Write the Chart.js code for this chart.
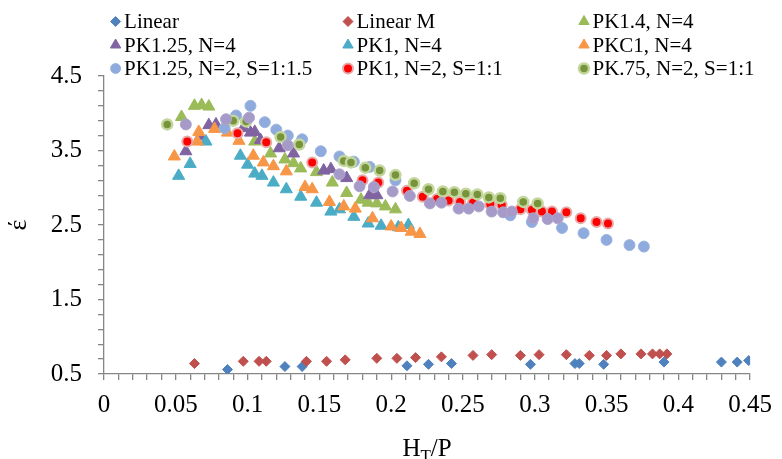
<!DOCTYPE html>
<html>
<head>
<meta charset="utf-8">
<script src="https://cdn.jsdelivr.net/npm/chart.js@4.4.1/dist/chart.umd.min.js"></script>
<style>
  html, body { margin: 0; padding: 0; background: #fff; }
  .chart__box { width: 782px; height: 459px; position: relative; }
</style>
</head>
<body>
<div class="chart__box"><canvas id="epsChart"></canvas></div>
<script>
"use strict";

// [HT/P, eps'] pairs per series
const linearPts = [
  [0.086, 0.56], [0.126, 0.6], [0.138, 0.6], [0.211, 0.61], [0.226, 0.63],
  [0.242, 0.64], [0.297, 0.63], [0.328, 0.64], [0.331, 0.64], [0.348, 0.63],
  [0.39, 0.66], [0.43, 0.66], [0.441, 0.66], [0.449, 0.68],
];
const linearMPts = [
  [0.063, 0.64], [0.097, 0.67], [0.108, 0.67], [0.113, 0.67], [0.141, 0.67],
  [0.155, 0.67], [0.168, 0.69], [0.19, 0.71], [0.204, 0.71], [0.217, 0.72],
  [0.235, 0.73], [0.257, 0.75], [0.27, 0.76], [0.29, 0.75], [0.303, 0.76],
  [0.322, 0.76], [0.338, 0.75], [0.35, 0.75], [0.36, 0.77], [0.374, 0.77],
  [0.382, 0.77], [0.387, 0.77], [0.392, 0.77],
];
const pk14Pts = [
  [0.054, 3.95], [0.063, 4.1], [0.068, 4.11], [0.073, 4.09], [0.105, 3.62],
  [0.116, 3.46], [0.126, 3.38], [0.132, 3.33], [0.137, 3.26], [0.148, 3.21],
  [0.159, 3.07], [0.169, 2.93], [0.179, 2.84], [0.184, 2.8], [0.19, 2.79],
  [0.196, 2.75], [0.203, 2.71],
];
const pk125Pts = [
  [0.057, 3.49], [0.067, 3.69], [0.073, 3.84], [0.078, 3.85], [0.097, 3.8],
  [0.102, 3.74], [0.105, 3.75], [0.109, 3.64], [0.122, 3.53], [0.132, 3.46],
  [0.153, 3.23], [0.158, 3.25], [0.169, 3.13], [0.185, 2.9], [0.19, 2.9],
];
const pk1Pts = [
  [0.052, 3.16], [0.06, 3.32], [0.071, 3.62], [0.095, 3.43], [0.1, 3.31],
  [0.105, 3.19], [0.11, 3.16], [0.118, 3.07], [0.127, 2.98], [0.137, 2.88],
  [0.148, 2.8], [0.158, 2.68], [0.164, 2.71], [0.174, 2.61], [0.184, 2.52],
  [0.193, 2.49], [0.205, 2.47], [0.212, 2.5],
];
const pkc1Pts = [
  [0.049, 3.42], [0.065, 3.62], [0.066, 3.75], [0.077, 3.79], [0.086, 3.74],
  [0.094, 3.63], [0.104, 3.43], [0.111, 3.34], [0.118, 3.29], [0.127, 3.22],
  [0.14, 3.01], [0.145, 2.98], [0.157, 2.81], [0.167, 2.75], [0.175, 2.72],
  [0.187, 2.59], [0.2, 2.48], [0.207, 2.46], [0.214, 2.41], [0.22, 2.38],
];
const pk125n2Pts = [
  [0.084, 3.8], [0.092, 3.97], [0.102, 4.1], [0.112, 3.88], [0.12, 3.78],
  [0.128, 3.7], [0.138, 3.65], [0.151, 3.49], [0.164, 3.42], [0.174, 3.35],
  [0.185, 3.28], [0.203, 3.1], [0.283, 2.63], [0.298, 2.54], [0.319, 2.46],
  [0.334, 2.39], [0.35, 2.3], [0.366, 2.23], [0.376, 2.21],
];
const pk1n2Pts = [
  [0.058, 3.62], [0.093, 3.73], [0.113, 3.61], [0.145, 3.34], [0.18, 3.1],
  [0.191, 3.07], [0.211, 2.96], [0.222, 2.88], [0.232, 2.85], [0.24, 2.83],
  [0.248, 2.81], [0.257, 2.8], [0.269, 2.78], [0.277, 2.77], [0.29, 2.71],
  [0.298, 2.7], [0.305, 2.68], [0.312, 2.68], [0.322, 2.67], [0.332, 2.59],
  [0.343, 2.54], [0.351, 2.52],
];
const pk075Pts = [
  [0.044, 3.85], [0.09, 3.9], [0.099, 3.89], [0.123, 3.68], [0.136, 3.58],
  [0.167, 3.36], [0.172, 3.34], [0.182, 3.27], [0.192, 3.23], [0.203, 3.17],
  [0.216, 3.06], [0.226, 2.98], [0.236, 2.95], [0.244, 2.94], [0.252, 2.92],
  [0.26, 2.91], [0.268, 2.87], [0.276, 2.86], [0.292, 2.81], [0.302, 2.79],
];
// extra run, no legend entry
const extraPts = [
  [0.057, 3.85], [0.085, 3.92], [0.101, 3.94], [0.128, 3.57], [0.164, 3.18],
  [0.178, 3.02], [0.188, 3.01], [0.201, 2.95], [0.213, 2.89], [0.227, 2.79],
  [0.235, 2.8], [0.247, 2.72], [0.254, 2.72], [0.261, 2.75], [0.27, 2.68],
  [0.278, 2.67], [0.284, 2.68], [0.299, 2.59], [0.309, 2.58], [0.316, 2.59],
];

const xTicks = [0, 0.05, 0.1, 0.15, 0.2, 0.25, 0.3, 0.35, 0.4, 0.45];
const yTicks = [0.5, 1.5, 2.5, 3.5, 4.5];

const FONT = "'Liberation Serif', 'Times New Roman', serif";
const AXIS_GREY = "#868686";

const series = [
  { label: "Linear", pts: linearPts, style: "rectRot", r: 5, fill: "#4F81BD", line: "#4F81BD", bw: 1 },
  { label: "Linear M", pts: linearMPts, style: "rectRot", r: 5, fill: "#C0504D", line: "#C0504D", bw: 1 },
  { label: "PK1.4, N=4", pts: pk14Pts, style: "triangle", r: 7, fill: "#9BBB59", line: "#9BBB59", bw: 1 },
  { label: "PK1.25, N=4", pts: pk125Pts, style: "triangle", r: 7, fill: "#8064A2", line: "#8064A2", bw: 1 },
  { label: "PK1, N=4", pts: pk1Pts, style: "triangle", r: 7, fill: "#4BACC6", line: "#4BACC6", bw: 1 },
  { label: "PKC1, N=4", pts: pkc1Pts, style: "triangle", r: 7, fill: "#F79646", line: "#F79646", bw: 1 },
  { label: "PK1.25, N=2, S=1:1.5", pts: pk125n2Pts, style: "circle", r: 5.5, fill: "#8FAADC", line: "#9AB3DF", bw: 1 },
  { label: "PK1, N=2, S=1:1", pts: pk1n2Pts, style: "circle", r: 5, fill: "#FF0000", line: "#E6AAAA", bw: 2 },
  { label: "PK.75, N=2, S=1:1", pts: pk075Pts, style: "circle", r: 5, fill: "#77933C", line: "#C3D69B", bw: 2.5 },
  { label: "", pts: extraPts, style: "circle", r: 5.5, fill: "#A69BC8", line: "#AEA4CD", bw: 1 },
];

const legendColX = [115.6, 348, 584];
const legendRowY = [21.5, 45, 68.5];

// legend laid out in a 3 x 3 grid above the plot
const gridLegend = {
  id: "gridLegend",
  afterDraw(chart) {
    const ctx = chart.ctx;
    ctx.save();
    ctx.font = `21px ${FONT}`;
    ctx.textBaseline = "middle";
    chart.data.datasets.forEach((ds, i) => {
      if (!ds.label) return;
      const x = legendColX[i % 3];
      const y = legendRowY[Math.floor(i / 3)];
      ctx.fillStyle = ds.backgroundColor;
      ctx.strokeStyle = ds.borderColor;
      ctx.lineWidth = ds.pointBorderWidth;
      Chart.helpers.drawPoint(ctx, {
        pointStyle: ds.pointStyle,
        radius: ds.pointStyle === "triangle" ? 6 : 5,
        borderWidth: ds.pointBorderWidth,
        rotation: 0,
      }, x, y);
      ctx.fillStyle = "#000";
      ctx.fillText(ds.label, x + 8.5, y + 1);
    });
    ctx.restore();
  },
};

// x axis title with subscript: H_T/P
const xTitle = {
  id: "xTitle",
  afterDraw(chart) {
    const ctx = chart.ctx;
    const area = chart.chartArea;
    const big = `25px ${FONT}`;
    const small = `17px ${FONT}`;
    ctx.save();
    ctx.fillStyle = "#000";
    ctx.textBaseline = "alphabetic";
    ctx.font = big;
    const wH = ctx.measureText("H").width;
    const wRest = ctx.measureText("/P").width;
    ctx.font = small;
    const wT = ctx.measureText("T").width;
    let x = (area.left + area.right) / 2 - (wH + wT + wRest) / 2;
    const base = 456;
    ctx.font = big;
    ctx.fillText("H", x, base);
    x += wH;
    ctx.font = small;
    ctx.fillText("T", x, base + 5);
    x += wT;
    ctx.font = big;
    ctx.fillText("/P", x, base);
    ctx.restore();
  },
};

const toDataset = (s, i) => ({
  label: s.label,
  data: s.pts.map(([x, y]) => ({ x, y })),
  pointStyle: s.style,
  pointRadius: s.r,
  pointHoverRadius: s.r,
  backgroundColor: s.fill,
  borderColor: s.line,
  pointBorderWidth: s.bw,
  order: series.length - i,
});

const ctx = document.getElementById("epsChart").getContext("2d");

new Chart(ctx, {
  type: "scatter",
  data: { datasets: series.map(toDataset) },
  options: {
    responsive: true,
    maintainAspectRatio: false,
    animation: false,
    layout: { padding: { top: 76, right: 24, left: 0, bottom: 0 } },
    plugins: {
      legend: { display: false },
      tooltip: { enabled: false },
    },
    scales: {
      x: {
        type: "linear",
        min: 0,
        max: 0.45,
        afterFit: (scale) => { scale.height = 85; },
        border: { color: AXIS_GREY, width: 1.3 },
        grid: { drawOnChartArea: false, drawTicks: true, tickLength: 6, color: AXIS_GREY, lineWidth: 1.3 },
        ticks: {
          stepSize: 0.01,
          autoSkip: false,
          maxRotation: 0,
          padding: 10,
          color: "#000",
          font: { family: FONT, size: 25 },
          callback: (v) => {
            const hit = xTicks.find((t) => Math.abs(t - v) < 1e-6);
            return hit === undefined ? "" : String(hit);
          },
        },
      },
      y: {
        type: "linear",
        min: 0.5,
        max: 4.5,
        afterFit: (scale) => { scale.width = 104; },
        border: { color: AXIS_GREY, width: 1.3 },
        grid: { drawOnChartArea: false, drawTicks: true, tickLength: 6, color: AXIS_GREY, lineWidth: 1.3 },
        title: {
          display: true,
          text: "έ",
          color: "#000",
          font: { family: FONT, size: 26 },
          padding: { top: 4, bottom: 0 },
        },
        ticks: {
          stepSize: 0.2,
          autoSkip: false,
          padding: 16,
          color: "#000",
          font: { family: FONT, size: 25 },
          callback: (v) => {
            const hit = yTicks.find((t) => Math.abs(t - v) < 1e-6);
            return hit === undefined ? "" : String(hit);
          },
        },
      },
    },
  },
  plugins: [gridLegend, xTitle],
});
</script>
</body>
</html>
